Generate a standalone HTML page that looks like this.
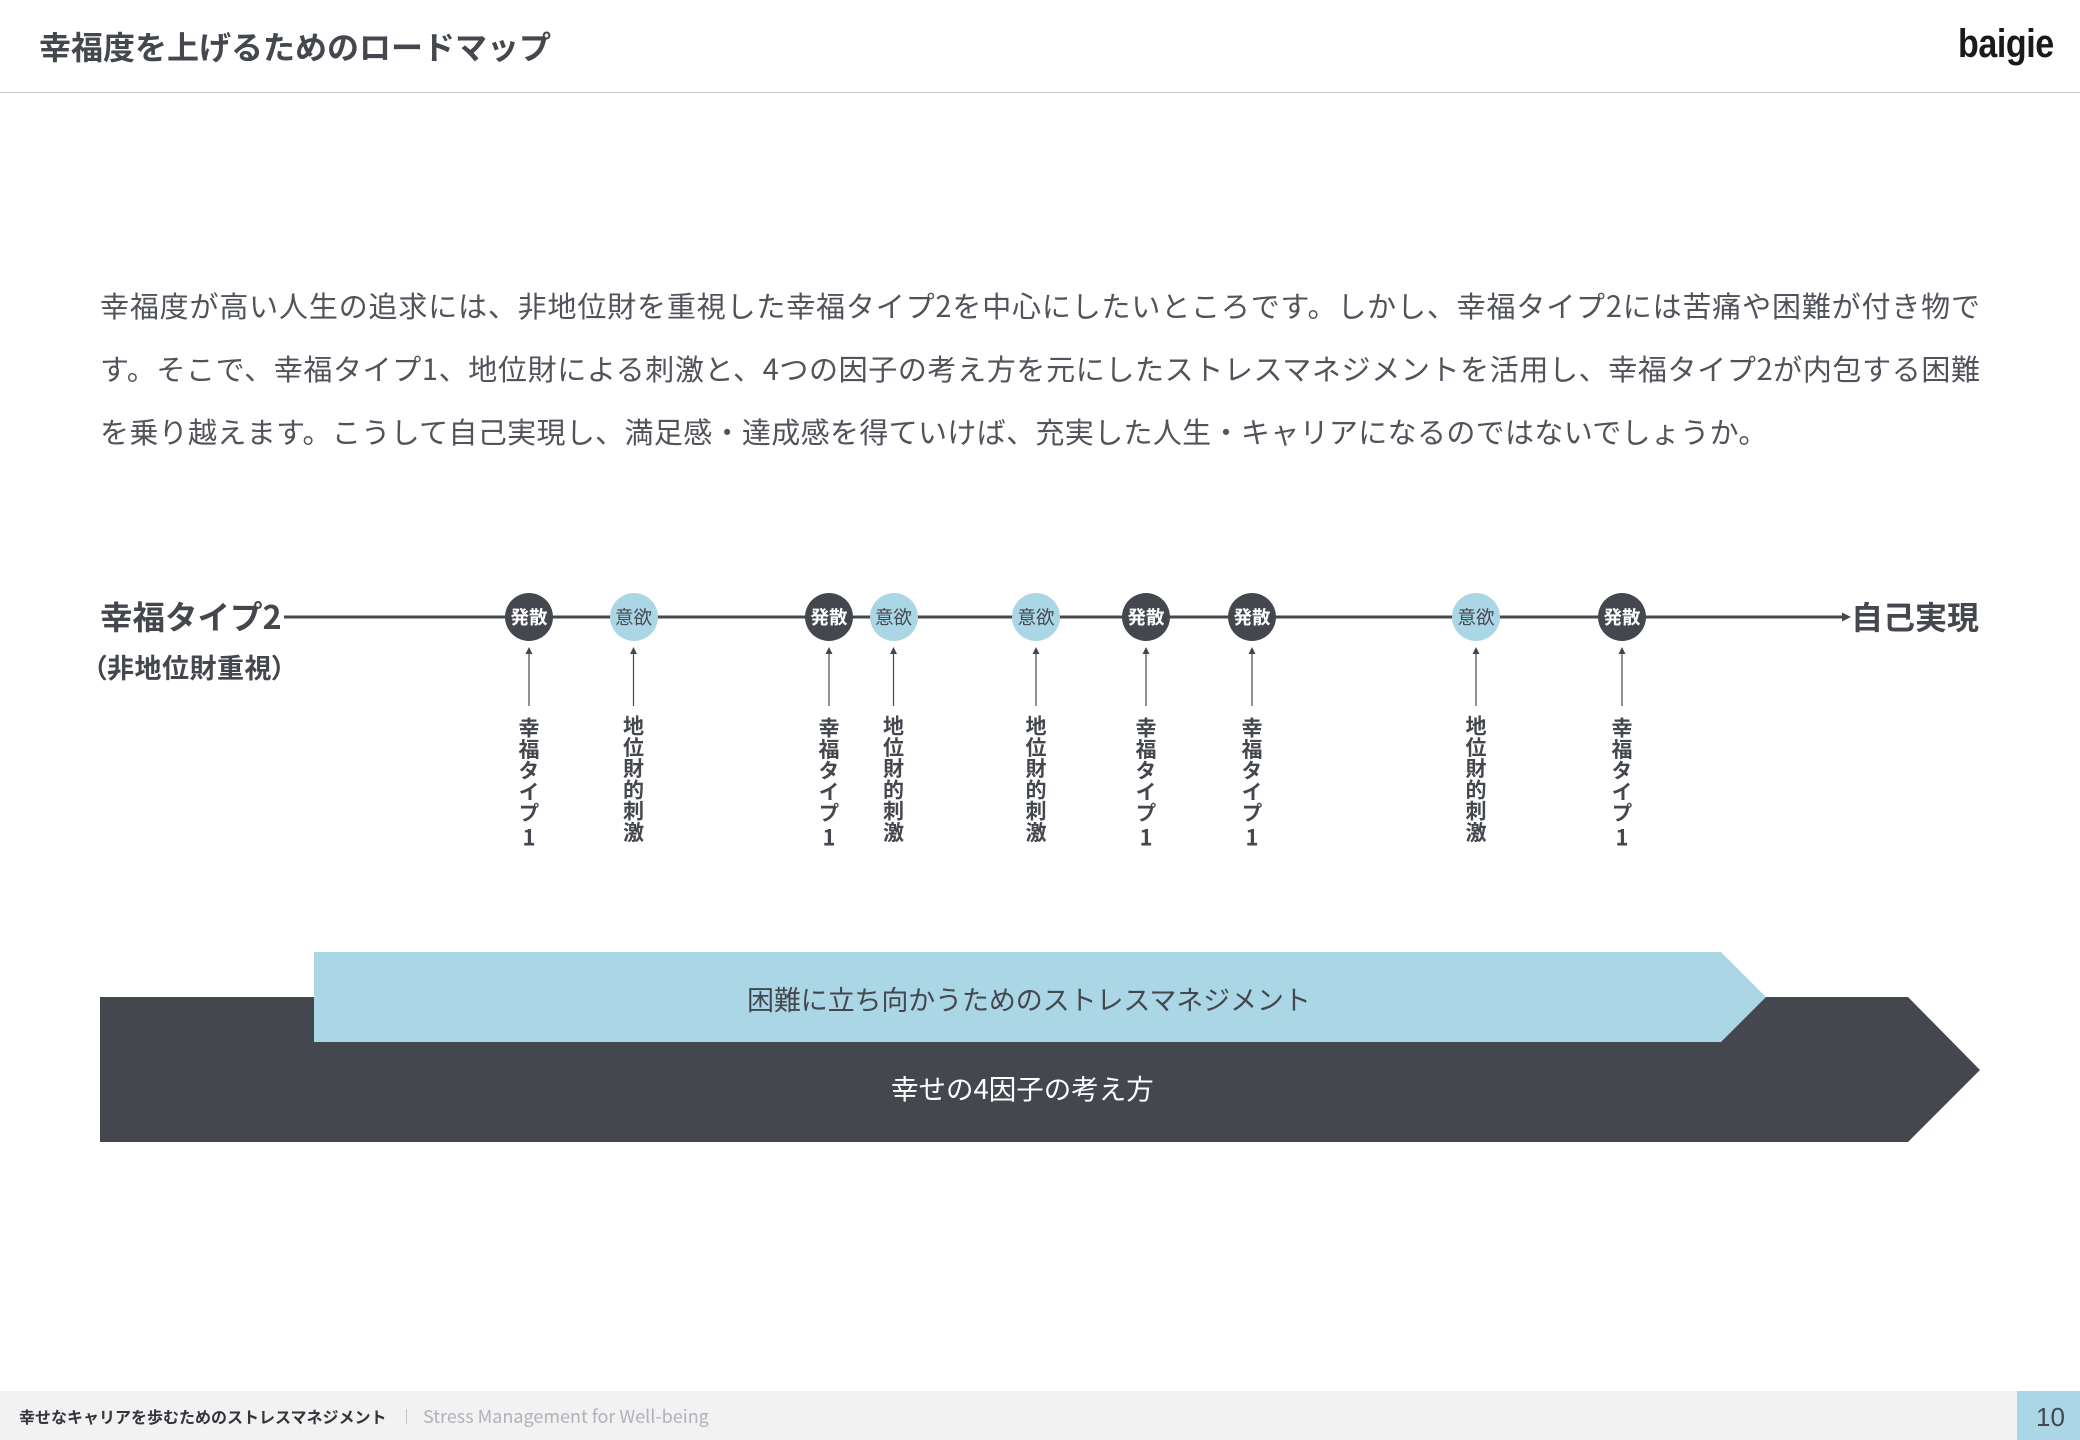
<!DOCTYPE html>
<html lang="ja">
<head>
<meta charset="utf-8">
<title>幸福度を上げるためのロードマップ</title>
<style>
html,body{margin:0;padding:0;background:#fff}
body{width:2080px;height:1440px;position:relative;overflow:hidden;font-family:"Liberation Sans","Noto Sans CJK JP",sans-serif;color:#44474e}
.a{position:absolute;white-space:nowrap;line-height:1}
.jp{font-family:"Noto Sans CJK JP","Liberation Sans",sans-serif}
.b{font-weight:700}
.p{left:100px;width:1880px;font-size:29px;line-height:64px;height:64px;font-family:"Noto Sans CJK JP",sans-serif;text-align:justify;text-align-last:justify;white-space:normal;color:#50535a;font-weight:400}
.c{position:absolute;top:593px;width:48px;height:48px;border-radius:50%;text-align:center;line-height:49px;font-size:18.5px;font-family:"Noto Sans CJK JP",sans-serif;margin-left:-24px}
.d{background:#44474e;color:#fff;font-weight:700}
.l{background:#abd6e6;color:#44474e}
.v{position:absolute;writing-mode:vertical-rl;text-orientation:upright;font-size:21px;font-weight:700;letter-spacing:.3px;line-height:24px;width:24px;margin-left:-12px;white-space:nowrap;font-family:"Noto Sans CJK JP",sans-serif}
.v span{font-size:22px;margin-top:2px;display:inline-block}
</style>
</head>
<body>
<div class="a jp b" style="left:39px;top:30px;font-size:32px">幸福度を上げるためのロードマップ</div>
<div class="a b" style="left:1958px;top:24px;font-family:'Liberation Sans',sans-serif;font-size:40px;color:#1a1a1a;transform:scaleX(.85);transform-origin:left top;letter-spacing:-.5px">baigie</div>
<div class="a" style="left:0;top:92px;width:2080px;height:1px;background:#c6c6c6"></div>

<div class="a p" style="top:273px">幸福度が高い人生の追求には、非地位財を重視した幸福タイプ2を中心にしたいところです。しかし、幸福タイプ2には苦痛や困難が付き物で</div>
<div class="a p" style="top:336px">す。そこで、幸福タイプ1、地位財による刺激と、4つの因子の考え方を元にしたストレスマネジメントを活用し、幸福タイプ2が内包する困難</div>
<div class="a p" style="top:399px;text-align-last:left;letter-spacing:.35px">を乗り越えます。こうして自己実現し、満足感・達成感を得ていけば、充実した人生・キャリアになるのではないでしょうか。</div>

<div class="a jp b" style="left:100px;top:600px;font-size:32.5px">幸福タイプ2</div>
<div class="a jp b" style="left:93px;top:653px;font-size:27px;letter-spacing:.5px;font-feature-settings:'palt'">（非地位財重視）</div>
<div class="a jp b" style="left:1851px;top:600px;font-size:32px">自己実現</div>

<svg class="a" style="left:0;top:0" width="2080" height="1440" viewBox="0 0 2080 1440">
<line x1="284" y1="617" x2="1845" y2="617" stroke="#44474e" stroke-width="3"/>
<polygon points="1851,617 1842,612.5 1842,621.5" fill="#44474e"/>
<g stroke="#44474e" stroke-width="1.2">
<line x1="529" y1="652" x2="529" y2="706"/>
<line x1="633.5" y1="652" x2="633.5" y2="706"/>
<line x1="829" y1="652" x2="829" y2="706"/>
<line x1="893.5" y1="652" x2="893.5" y2="706"/>
<line x1="1036" y1="652" x2="1036" y2="706"/>
<line x1="1146" y1="652" x2="1146" y2="706"/>
<line x1="1252" y1="652" x2="1252" y2="706"/>
<line x1="1476" y1="652" x2="1476" y2="706"/>
<line x1="1622" y1="652" x2="1622" y2="706"/>
</g>
<g fill="#44474e">
<polygon points="529,647 525.5,654 532.5,654"/>
<polygon points="633.5,647 630,654 637,654"/>
<polygon points="829,647 825.5,654 832.5,654"/>
<polygon points="893.5,647 890,654 897,654"/>
<polygon points="1036,647 1032.5,654 1039.5,654"/>
<polygon points="1146,647 1142.5,654 1149.5,654"/>
<polygon points="1252,647 1248.5,654 1255.5,654"/>
<polygon points="1476,647 1472.5,654 1479.5,654"/>
<polygon points="1622,647 1618.5,654 1625.5,654"/>
</g>
<polygon points="100,997 1908,997 1980,1070 1908,1142 100,1142" fill="#44474e"/>
<polygon points="314,952 1721,952 1766,997 1721,1042 314,1042" fill="#abd6e6"/>
</svg>

<div class="c d" style="left:529px">発散</div>
<div class="c l" style="left:633.5px">意欲</div>
<div class="c d" style="left:829px">発散</div>
<div class="c l" style="left:893.5px">意欲</div>
<div class="c l" style="left:1036px">意欲</div>
<div class="c d" style="left:1146px">発散</div>
<div class="c d" style="left:1252px">発散</div>
<div class="c l" style="left:1476px">意欲</div>
<div class="c d" style="left:1622px">発散</div>

<div class="v" style="left:529px;top:717px">幸福タイプ<span>1</span></div>
<div class="v" style="left:633.5px;top:715px">地位財的刺激</div>
<div class="v" style="left:829px;top:717px">幸福タイプ<span>1</span></div>
<div class="v" style="left:893.5px;top:715px">地位財的刺激</div>
<div class="v" style="left:1036px;top:715px">地位財的刺激</div>
<div class="v" style="left:1146px;top:717px">幸福タイプ<span>1</span></div>
<div class="v" style="left:1252px;top:717px">幸福タイプ<span>1</span></div>
<div class="v" style="left:1476px;top:715px">地位財的刺激</div>
<div class="v" style="left:1622px;top:717px">幸福タイプ<span>1</span></div>

<div class="a jp" style="left:747px;top:985px;font-size:27px;letter-spacing:-.12px;color:#44474e">困難に立ち向かうためのストレスマネジメント</div>
<div class="a jp" style="left:891px;top:1074px;font-size:27.5px;color:#fff">幸せの4因子の考え方</div>

<div class="a" style="left:0;top:1391px;width:2017px;height:49px;background:#f2f2f2"></div>
<div class="a" style="left:2017px;top:1391px;width:63px;height:49px;background:#abd6e6"></div>
<div class="a jp b" style="left:19px;top:1408px;font-size:16px;color:#33353b">幸せなキャリアを歩むためのストレスマネジメント</div>
<div class="a" style="left:406px;top:1409px;width:1px;height:15px;background:#c4c5c9"></div>
<div class="a jp" style="left:423px;top:1407px;font-size:18px;color:#b0b2ba">Stress Management for Well-being</div>
<div class="a" style="left:2036px;top:1404px;font-size:26px;color:#44474e">10</div>
</body>
</html>
